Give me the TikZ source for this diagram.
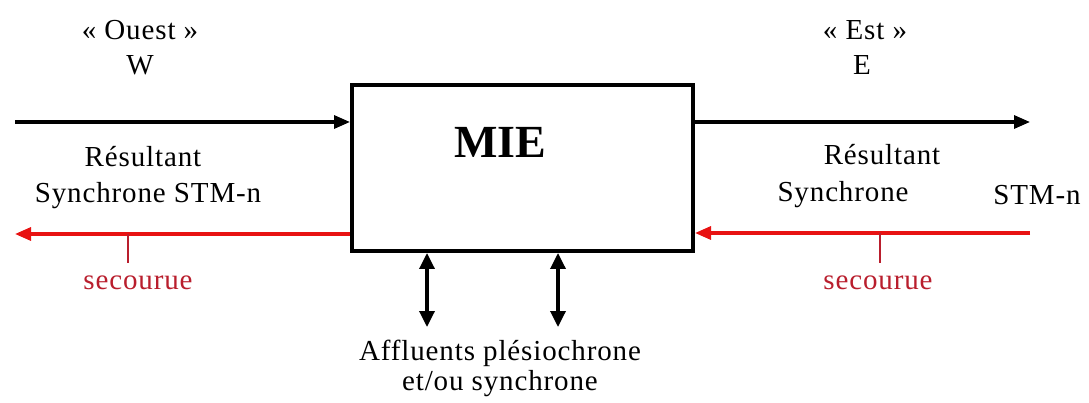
\documentclass[tikz,border=0pt]{standalone}
\usepackage{fontspec}
\setmainfont{Liberation Serif}[LetterSpace=3]
\usetikzlibrary{arrows.meta}
\definecolor{linered}{RGB}{232,18,18}
\definecolor{textred}{RGB}{185,30,45}
\begin{document}
\begin{tikzpicture}[x=1pt,y=-1pt,
  txt/.style={inner sep=0pt,font=\fontsize{29}{30}\selectfont},
  redtxt/.style={inner sep=0pt,text=textred,font=\fontsize{29}{30}\selectfont},
  box/.style={draw,line width=4pt,minimum width=341pt,minimum height=166pt,inner sep=0pt},
  blk/.style={line width=3.2pt,-{Triangle[length=16pt,width=13pt]}},
  redarr/.style={linered,line width=3.2pt,-{Triangle[length=16pt,width=13pt]}},
  tick/.style={textred,line width=1.5pt},
  dbl/.style={line width=3.4pt,{Triangle[length=16pt,width=15pt]}-{Triangle[length=16pt,width=15pt]}}]
\useasboundingbox (0,0) rectangle (1089,403);
\fill[white] (0,0) rectangle (1089,403);
\node[box] (mie) at (522.5,168) {};
\node[inner sep=0pt,font=\bfseries\fontsize{46}{46}\selectfont\addfontfeature{LetterSpace=0}] (mielbl) at (500,142) {MIE};
% top labels
\node[txt] (ouest) at (140,30) {« Ouest »};
\node[txt] (w) at (140,65) {W};
\node[txt] (est) at (865,30) {« Est »};
\node[txt] (e) at (862,65) {E};
% side labels
\node[txt] (res1) at (143,157) {Résultant};
\node[txt] (syn1) at (148,196) {Synchrone STM-n};
\node[txt] (res2) at (882,155) {Résultant};
\node[txt] (syn2) at (843,195) {Synchrone};
\node[txt] (stm) at (1037,195) {STM-n};
\node[txt,align=center] (aff) at (500,368) {Affluents plésiochrone\\et/ou synchrone};
\node[redtxt] (secl) at (138,283) {secourue};
\node[redtxt] (secr) at (878,283) {secourue};
% connectors
\coordinate (wl) at (15,122);
\coordinate (er) at (1030,122);
\coordinate (wr) at (15,234);
\coordinate (err) at (1030,233);
\draw[blk] (wl) -- (wl -| mie.west);
\draw[blk] (mie.east |- er) -- (er);
\draw[redarr] (mie.west |- wr) -- (wr);
\draw[redarr] (err) -- (err -| mie.east);
\coordinate (t1) at (128,234);
\coordinate (t2) at (880,233);
\draw[tick] (t1) -- ++(0,29);
\draw[tick] (t2) -- ++(0,30);
\coordinate (a1) at (427,327);
\coordinate (a2) at (558,327);
\draw[dbl] (a1 |- mie.south) -- (a1);
\draw[dbl] (a2 |- mie.south) -- (a2);
\end{tikzpicture}
\end{document}
